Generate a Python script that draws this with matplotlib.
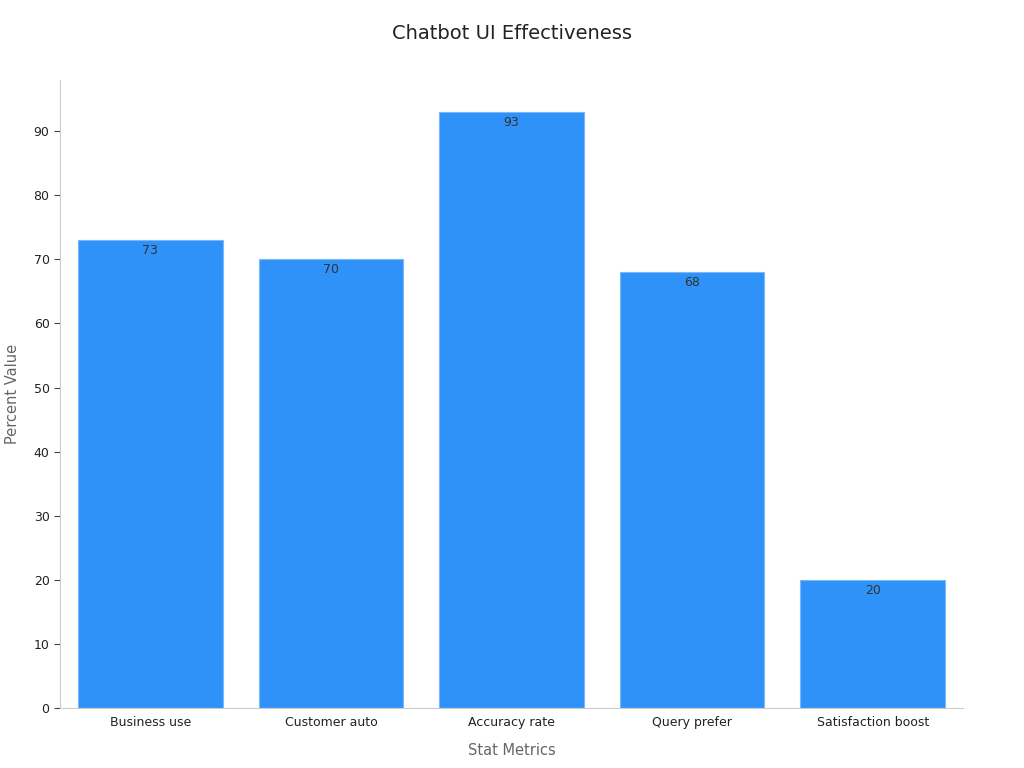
import matplotlib
matplotlib.use("Agg")
import matplotlib.pyplot as plt

categories = ["Business use", "Customer auto", "Accuracy rate", "Query prefer", "Satisfaction boost"]
values = [73, 70, 93, 68, 20]
yticks = [0, 10, 20, 30, 40, 50, 60, 70, 80, 90]

fig = plt.figure(figsize=(10.24, 7.68), dpi=100)
ax = fig.add_axes([0.0586, 0.078, 0.8818, 0.818])
x = range(len(categories))
ax.bar(x, values, width=0.8, color="#2f92f8", edgecolor="#7ab8fa", linewidth=0.8)
for i, v in zip(x, values):
    ax.text(i, v - 0.6, str(v), ha="center", va="top", fontsize=9, color="#333333")
ax.set_xlim(-0.5, len(categories) - 0.5)
ax.set_ylim(0, 98)
ax.set_xticks(list(x))
ax.set_xticklabels(categories, fontsize=9, color="#222222")
ax.set_yticks(yticks)
ax.tick_params(axis="y", labelsize=9, colors="#222222", length=4, color="#444444")
ax.tick_params(axis="x", length=0, pad=6)
for s in ["top", "right"]:
    ax.spines[s].set_visible(False)
ax.spines["left"].set_color("#cccccc")
ax.spines["bottom"].set_color("#cccccc")
ax.set_xlabel("Stat Metrics", fontsize=10.5, color="#666666", labelpad=10)
ax.set_ylabel("Percent Value", fontsize=10.5, color="#666666", labelpad=10)
fig.text(0.5, 0.957, "Chatbot UI Effectiveness", ha="center", va="center", fontsize=14, color="#222222")
fig.savefig("out.png", dpi=100)
